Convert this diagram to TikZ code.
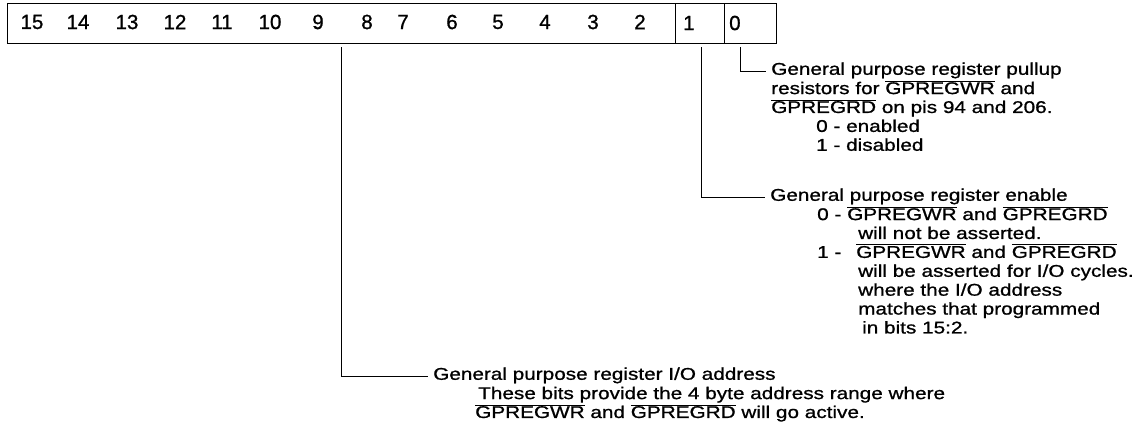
\documentclass[tikz,border=0pt]{standalone}
\usepackage{fontspec}
\setmainfont{Liberation Sans}
\newfontfamily\notefont[FakeStretch=1.22, FakeBold=1]{Liberation Sans}
\newfontfamily\bitfont[FakeBold=1]{Liberation Sans}
\usetikzlibrary{positioning}
\newcommand{\ovl}[1]{\smash{$\overline{\mbox{#1}}$}}

\begin{document}
\begin{tikzpicture}[x=1pt, y=-1pt, node distance=0pt]
  \tikzset{
    cell/.style ={draw, line width=1pt, outer sep=0pt, inner sep=0pt, minimum height=40pt, anchor=north west},
    bitno/.style={inner sep=0pt, font=\bitfont\fontsize{20.5}{24}\selectfont},
    note/.style ={inner xsep=5pt, inner ysep=0pt, align=left, font=\notefont\fontsize{17}{18.9}\selectfont},
    lead/.style ={line width=0.8pt},
  }
  \useasboundingbox (0,0) rectangle (1146,442);
  % register cells
  \node[cell, minimum width=668pt] (bhi) at (7,3) {};
  \node[cell, minimum width=49pt] (bone) at (bhi.north east) {};
  \node[cell, minimum width=52pt] (bzero) at (bone.north east) {};
  \foreach \n/\x in {15/32,14/78,13/127,12/175,11/222,10/270,9/318,8/367,7/403,6/452,5/498,4/545,3/593,2/640}
    \node[bitno] (n\n) at (\x,22) {\n};
  \node[bitno, right=8pt of bone.west] (n1) {1};
  \node[bitno, right=5pt of bzero.west] (n0) {0};
  % bit 0
  \node[note, anchor=west] (hzero) at (766,71) {\strut General purpose register pullup};
  \node[note, below=0pt of hzero.south west, anchor=north west] (dzero) {%
    \strut resistors for \ovl{GPREGWR} and\\
    \ovl{GPREGRD} on pis 94 and 206.\\
    \hspace*{45pt}0 - enabled\\
    \hspace*{45pt}1 - disabled};
  % bit 1
  \node[note, anchor=west] (hone) at (765,197) {\strut General purpose register enable};
  \node[note, below=0pt of hone.south west, anchor=north west] (done) {%
    \strut\hspace*{47pt}0 - \ovl{GPREGWR} and \ovl{GPREGRD}\\
    \hspace*{88pt}will not be asserted.\\
    \hspace*{47pt}\makebox[39pt][l]{1 -}\ovl{GPREGWR} and \ovl{GPREGRD}\\
    \hspace*{88pt}will be asserted for I/O cycles.\\
    \hspace*{88pt}where the I/O address\\
    \hspace*{88pt}matches that programmed\\
    \hspace*{92pt}in bits 15:2.};
  % bits 15:2
  \node[note, anchor=west] (hhi) at (428,376) {\strut General purpose register I/O address};
  \node[note, below=0pt of hhi.south west, anchor=north west] (dhi) {%
    \strut\hspace*{45pt}These bits provide the 4 byte address range where\\
    \hspace*{42pt}\ovl{GPREGWR} and \ovl{GPREGRD} will go active.};
  % leads
  \draw[lead] ([xshift=-10pt, yshift=-4pt]bzero.south) |- (hzero.west);
  \draw[lead] ([xshift=1.5pt, yshift=-4pt]bone.south) |- (hone.west);
  \draw[lead] ([yshift=-4pt]bhi.south) |- (hhi.west);
\end{tikzpicture}
\end{document}
